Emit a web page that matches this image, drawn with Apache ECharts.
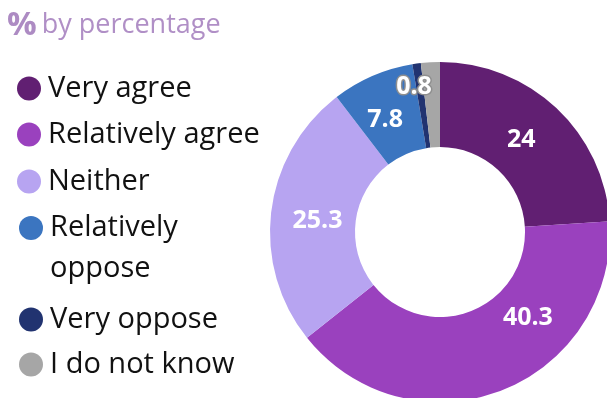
<!DOCTYPE html>
<html>
<head>
<meta charset="utf-8">
<script src="https://cdn.jsdelivr.net/npm/echarts@6/dist/echarts.min.js"></script>
<style>
  html, body { margin: 0; padding: 0; background: #fff; }
  #chart { width: 607px; height: 398px; }
</style>
</head>
<body>
<div id="chart"></div>
<script>
// Survey answers, share of respondents (%)
const categories = ['Very agree', 'Relatively agree', 'Neither', 'Relatively oppose', 'Very oppose', 'I do not know'];
const values = [24, 40.3, 25.3, 7.8, 0.8, 1.8];
const colors = ['#611f72', '#9a41be', '#b7a4f1', '#3b75c0', '#213370', '#a6a6a6'];

// Legend row centres (px from top) and left edge of each marker
const legendCenters = [86, 132, 179, 228, 317, 362];
const legendLefts = [17, 17, 17, 19, 19, 19];
const legendLabels = {
  'Relatively oppose': '\nRelatively\noppose'
};

// Nudges for the value labels inside the ring
const labelNudge = [[-8, 3], [41, -36], [7, 5], [-3, 8], [-8, -16], [0, 0]];

const FONT = '"Open Sans", "Noto Sans", sans-serif';

const legends = categories.map(function (name, i) {
  const twoLine = !!legendLabels[name];
  const lh = twoLine ? 41 : 24;
  const above = twoLine ? (3 * lh) / 2 - 12 : 0;
  return {
    data: [name],
    orient: 'vertical',
    left: legendLefts[i],
    top: legendCenters[i] - 12 - above,
    padding: 0,
    icon: 'circle',
    itemWidth: 24,
    itemHeight: 24,
    selectedMode: false,
    formatter: function (n) { return legendLabels[n] || n; },
    textStyle: {
      fontFamily: FONT,
      fontSize: 29,
      color: '#111',
      lineHeight: lh,
      padding: [0, 0, 0, 2]
    }
  };
});

const chart = echarts.init(document.getElementById('chart'), null, { renderer: 'canvas' });
chart.setOption({
  animation: false,
  color: colors,
  title: {
    left: 7,
    top: 9,
    padding: 0,
    text: '{p|%} {t|by percentage}',
    textStyle: {
      rich: {
        p: { fontFamily: FONT, fontSize: 33, fontWeight: 'bold', color: '#ad8bc3' },
        t: { fontFamily: FONT, fontSize: 27, fontWeight: 'normal', color: '#b08fc6' }
      }
    }
  },
  legend: legends,
  series: [{
    type: 'pie',
    center: [440, 232],
    radius: [85, 170],
    startAngle: 90,
    clockwise: true,
    emphasis: { scale: false },
    label: {
      show: true,
      position: 'inside',
      formatter: '{c}',
      color: '#fff',
      fontFamily: FONT,
      fontSize: 25,
      fontWeight: 'bold'
    },
    labelLine: { show: false },
    labelLayout: function (p) {
      const n = labelNudge[p.dataIndex];
      return { dx: n[0], dy: n[1] };
    },
    data: categories.map(function (name, i) {
      const item = { name: name, value: values[i] };
      if (i === 4) {
        item.label = { textBorderColor: '#8f8f8f', textBorderWidth: 3 };
      }
      if (i === 5) {
        item.label = { show: false };
      }
      return item;
    })
  }]
});
</script>
</body>
</html>
